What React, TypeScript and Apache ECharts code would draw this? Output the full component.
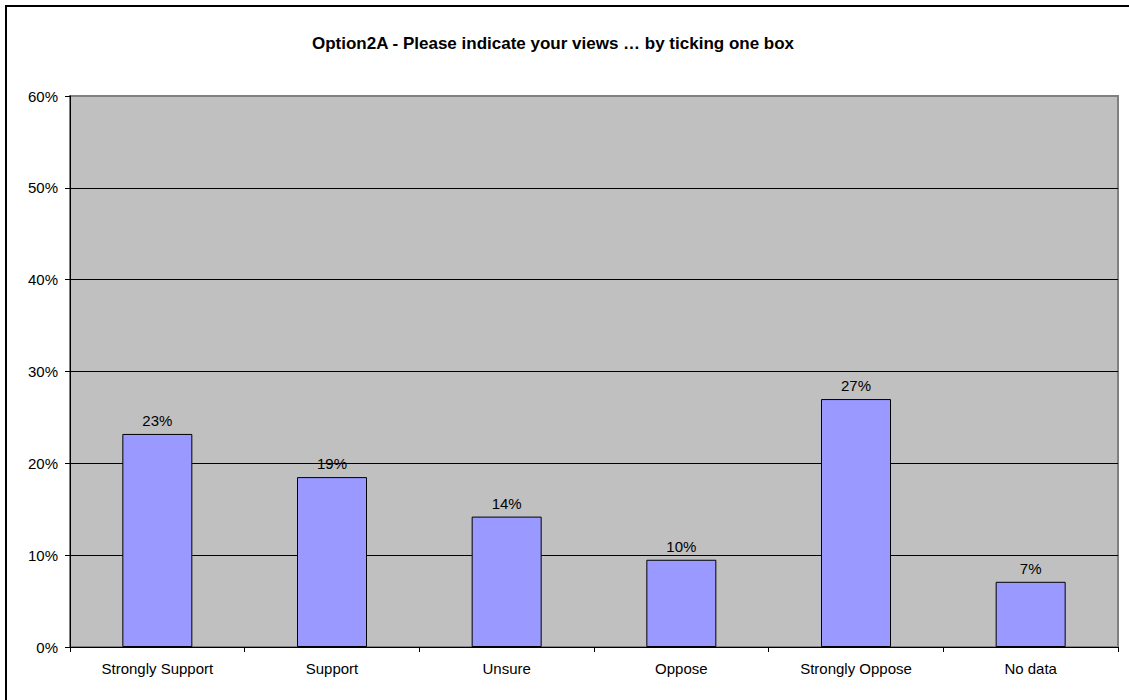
import React, { useEffect, useRef } from "react";
import * as echarts from "echarts";

const titleText = "Option2A - Please indicate your views … by ticking one box";
const categories = ["Strongly Support", "Support", "Unsure", "Oppose", "Strongly Oppose", "No data"];
const values = [23.2, 18.5, 14.2, 9.5, 27.0, 7.1];
const yMax = 60;
const yInterval = 10;

export default function App() {
  const ref = useRef<HTMLDivElement>(null);
  useEffect(() => {
    if (!ref.current) return;
    const chart = echarts.init(ref.current, null, { renderer: "svg" });
    const font = "'Liberation Sans', Arial, sans-serif";
    chart.setOption({
      animation: false,
      backgroundColor: "#ffffff",
      textStyle: { fontFamily: font },
      graphic: [
        {
          type: "rect",
          shape: { x: 6, y: 6, width: 1140, height: 720 },
          style: { fill: "none", stroke: "#000", lineWidth: 2 },
          silent: true,
        },
        {
          type: "text",
          x: 553,
          y: 43,
          style: {
            text: titleText,
            fontFamily: font,
            fontSize: 17,
            fontWeight: "bold",
            fill: "#000",
            align: "center",
            verticalAlign: "middle",
          },
        },
      ],
      grid: {
        left: 70,
        top: 96,
        width: 1048,
        height: 551,
        show: true,
        backgroundColor: "#C0C0C0",
        borderColor: "#808080",
        borderWidth: 2,
      },
      xAxis: {
        type: "category",
        data: categories,
        boundaryGap: true,
        axisLine: { show: true, lineStyle: { color: "#000", width: 1 } },
        axisTick: { show: true, length: 5, alignWithLabel: false, lineStyle: { color: "#000" } },
        axisLabel: { color: "#000", fontSize: 15, margin: 14, fontFamily: font, interval: 0 },
        splitLine: { show: false },
      },
      yAxis: {
        type: "value",
        min: 0,
        max: yMax,
        interval: yInterval,
        axisLine: { show: true, lineStyle: { color: "#000", width: 1 } },
        axisTick: { show: true, length: 5, lineStyle: { color: "#000" } },
        axisLabel: {
          color: "#000",
          fontSize: 15,
          margin: 12,
          fontFamily: font,
          formatter: (v: number) => v + "%",
        },
        splitLine: {
          show: true,
          lineStyle: {
            color: ["#000", "#000", "#000", "#000", "#000", "#000", "#808080"],
            width: 1,
          },
        },
      },
      series: [
        {
          type: "bar",
          data: values,
          barWidth: 70,
          itemStyle: { color: "#9999FF", borderColor: "#000", borderWidth: 1 },
          label: {
            show: true,
            position: "top",
            distance: 6,
            color: "#000",
            fontSize: 15,
            fontFamily: font,
            formatter: (p: any) => Math.round(p.value) + "%",
          },
        },
      ],
    });
    return () => chart.dispose();
  }, []);
  return (
    <div
      ref={ref}
      style={{ position: "fixed", left: 0, top: 0, width: 1129, height: 700 }}
    />
  );
}
